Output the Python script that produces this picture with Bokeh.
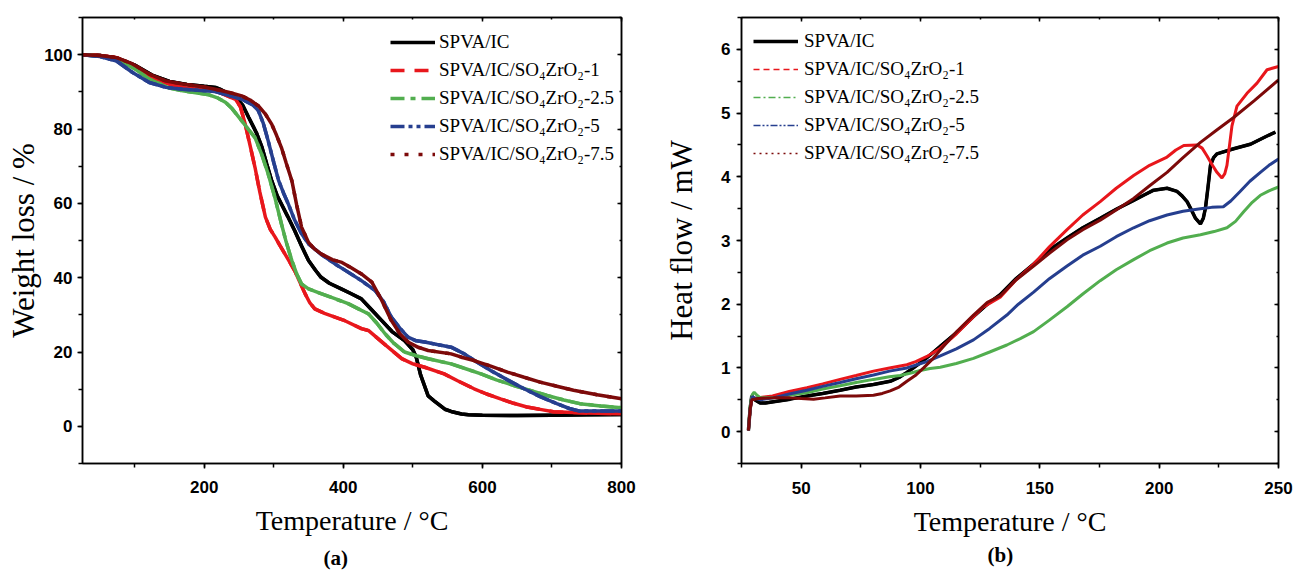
from bokeh.plotting import figure
from bokeh.layouts import row
from bokeh.models import (LinearAxis, SingleIntervalTicker, Legend, LegendItem,
                          Title, Range1d)
from bokeh.embed import file_html
from bokeh.resources import INLINE

# ---------------- data ----------------
series_names = ["SPVA/IC", "SPVA/IC/SO₄ZrO₂-1", "SPVA/IC/SO₄ZrO₂-2.5",
                "SPVA/IC/SO₄ZrO₂-5", "SPVA/IC/SO₄ZrO₂-7.5"]
colors = ["#000000", "#e8171c", "#52ae4f", "#263f8f", "#7d0a0a"]

# (a) TGA: temperature (°C) vs weight loss (%)
tga_x_ic = [25, 50, 75, 100, 125, 150, 175, 200, 216, 225, 245, 255, 264, 275, 283, 290, 297, 305, 311,
            320, 330, 340, 350, 360, 368, 380, 397, 410, 426, 440, 455, 470, 488, 500, 505, 511, 522,
            531, 546, 555, 570, 580, 600, 650, 700, 750, 800]
tga_y_ic = [100, 99.8, 99.1, 97.2, 94.5, 92.8, 92.0, 91.5, 91.2, 90.5, 88.5, 86.5, 83.1, 79.0, 75.1, 70.5,
            66.1, 62.0, 59.8, 56.5, 52.7, 48.5, 44.6, 42.0, 40.1, 38.5, 37.0, 35.8, 34.3, 31.5, 28.5, 25.5,
            23.1, 20.6, 18.5, 13.9, 8.2, 6.8, 4.6, 4.0, 3.3, 3.1, 3.0, 2.9, 3.0, 3.1, 3.2]

tga_x_1 = [25, 50, 74, 100, 121, 150, 169, 200, 216, 245, 252, 259, 266, 273, 280, 288, 295, 302, 309,
           316, 323, 330, 337, 345, 352, 359, 373, 388, 400, 426, 436, 460, 484, 500, 517, 545, 565,
           588, 606, 626, 645, 664, 685, 702, 750, 800]
tga_y_1 = [100, 99.8, 99.2, 97.0, 93.9, 92.0, 91.2, 90.5, 90.3, 88.0, 86.0, 81.3, 75.5, 69.7, 63.0, 56.3,
           53.0, 50.9, 48.6, 46.4, 44.2, 41.9, 39.0, 35.7, 33.2, 31.6, 30.4, 29.4, 28.6, 26.3, 25.8, 22.0,
           18.2, 16.8, 15.9, 14.1, 12.2, 10.1, 8.7, 7.4, 6.2, 5.2, 4.5, 3.9, 3.6, 3.4]

tga_x_25 = [25, 50, 74, 100, 121, 150, 169, 190, 207, 220, 231, 240, 254, 264, 273, 283, 292, 302, 311,
            318, 326, 333, 340, 350, 368, 387, 407, 426, 436, 448, 460, 473, 488, 505, 522, 555, 576,
            598, 620, 645, 670, 693, 717, 740, 770, 800]
tga_y_25 = [100, 99.6, 98.8, 96.2, 93.4, 91.0, 90.3, 89.7, 89.2, 88.3, 87.1, 85.5, 82.2, 79.8, 77.7, 73.0,
            67.9, 61.3, 54.5, 49.5, 44.6, 41.0, 38.3, 37.0, 35.7, 34.4, 33.0, 31.2, 30.3, 27.8, 24.9, 22.3,
            20.0, 19.0, 18.2, 16.8, 15.5, 14.1, 12.5, 11.0, 9.6, 8.3, 7.1, 6.1, 5.5, 5.0]

tga_x_5 = [25, 50, 74, 97, 121, 145, 169, 216, 254, 270, 278, 285, 292, 300, 307, 314, 321, 330, 340,
           350, 368, 388, 400, 426, 446, 458, 469, 481, 493, 505, 517, 535, 555, 574, 592, 612, 636,
           660, 683, 707, 725, 740, 770, 800]
tga_y_5 = [100, 99.5, 98.3, 95.2, 92.5, 91.2, 90.7, 90.1, 88.0, 86.5, 84.9, 81.5, 76.8, 71.0, 66.1, 62.8,
           59.8, 55.5, 51.8, 49.1, 46.3, 43.7, 42.3, 39.2, 36.5, 33.5, 29.4, 26.5, 24.0, 23.0, 22.7, 22.0,
           21.3, 19.5, 17.3, 15.0, 12.5, 10.1, 8.0, 6.1, 4.8, 4.1, 4.1, 4.1]

tga_x_75 = [25, 50, 74, 97, 121, 145, 169, 200, 216, 235, 254, 266, 278, 288, 297, 304, 311, 318, 326,
            333, 340, 350, 358, 368, 385, 398, 412, 426, 441, 455, 469, 481, 493, 507, 522, 555, 570,
            588, 612, 636, 660, 683, 707, 731, 765, 800]
tga_y_75 = [100, 99.8, 99.2, 97.5, 94.8, 92.9, 92.1, 91.3, 90.7, 89.9, 88.9, 87.8, 86.2, 84.0, 81.3, 78.3,
            75.0, 70.8, 66.1, 59.5, 53.6, 49.5, 47.8, 46.4, 44.8, 44.1, 42.6, 41.0, 38.8, 34.0, 28.5, 25.0,
            22.7, 21.3, 20.4, 19.5, 18.6, 17.7, 16.2, 14.6, 13.2, 11.9, 10.8, 9.7, 8.5, 7.4]

# (b) DSC: temperature (°C) vs heat flow (mW)
dsc_x_ic = [27.9, 28.6, 29.3, 30.2, 32.8, 35, 38.4, 45.4, 52.4, 59, 66.3, 73, 80.3, 87.3, 91, 94.3, 97,
            99.9, 104, 108.3, 115, 122, 128, 133.4, 140, 147.4, 154, 161.4, 168, 175.3, 182, 189.3,
            193.5, 197.7, 203.3, 207.5, 209.6, 211.7, 213.5, 215.2, 217.3, 218.5, 219.4, 220.5, 221.5,
            222.8, 224.2, 231.2, 238.2, 245.2, 248.7]
dsc_y_ic = [0.02, 0.35, 0.56, 0.51, 0.45, 0.45, 0.47, 0.51, 0.56, 0.60, 0.65, 0.70, 0.74, 0.79, 0.85,
            0.93, 1.00, 1.08, 1.20, 1.34, 1.55, 1.80, 2.00, 2.15, 2.40, 2.63, 2.85, 3.04, 3.20, 3.35,
            3.49, 3.63, 3.71, 3.79, 3.82, 3.77, 3.70, 3.61, 3.48, 3.35, 3.26, 3.35, 3.51, 3.85, 4.18,
            4.30, 4.36, 4.44, 4.51, 4.64, 4.70]

dsc_x_1 = [27.9, 28.6, 29.3, 31.4, 38, 45, 52.4, 59, 66.3, 73, 80.3, 87, 94.3, 98, 102.7, 108.3, 115.2,
           120, 126, 133.4, 140, 147.4, 154, 161.4, 168, 175.3, 182, 189.3, 196, 203.3, 207, 210.3,
           215.9, 218, 220, 222, 224.2, 226.3, 227.5, 228.4, 229.5, 230.5, 232.6, 236.8, 241, 245.2, 250]
dsc_y_1 = [0.02, 0.35, 0.50, 0.53, 0.56, 0.63, 0.69, 0.75, 0.82, 0.88, 0.95, 1.00, 1.05, 1.10, 1.18, 1.31,
           1.54, 1.72, 1.95, 2.11, 2.38, 2.63, 2.90, 3.17, 3.40, 3.61, 3.82, 4.02, 4.18, 4.31, 4.42, 4.49,
           4.50, 4.45, 4.33, 4.20, 4.07, 3.98, 4.05, 4.18, 4.50, 4.80, 5.11, 5.31, 5.47, 5.68, 5.73]

dsc_x_25 = [27.9, 28.6, 29.5, 30.3, 31.5, 33, 38.4, 45, 52.4, 59, 66.3, 73, 80.3, 87, 91.5, 96, 99.9, 104,
            108.3, 115, 122.2, 129, 136.2, 141.8, 147.4, 154, 161.4, 168, 175.3, 182, 189.3, 196, 203.3,
            210, 217.3, 223, 228.4, 232, 235.4, 239, 242.4, 246, 250]
dsc_y_25 = [0.02, 0.40, 0.58, 0.62, 0.57, 0.53, 0.53, 0.57, 0.61, 0.67, 0.72, 0.77, 0.82, 0.86, 0.88, 0.92,
            0.96, 0.99, 1.01, 1.07, 1.15, 1.25, 1.36, 1.46, 1.57, 1.75, 1.96, 2.16, 2.37, 2.54, 2.70, 2.84,
            2.96, 3.04, 3.09, 3.14, 3.20, 3.30, 3.45, 3.60, 3.71, 3.78, 3.84]

dsc_x_5 = [27.9, 28.6, 29.5, 31, 33, 38.4, 45, 52.4, 59, 66.3, 73, 80.3, 87, 94.3, 98.5, 102.7, 108.3, 115,
           122.2, 129, 136.2, 141, 147.4, 154, 161.4, 168, 175.3, 182, 189.3, 196, 203.3, 210, 217.3,
           222, 226.9, 230, 233.9, 238, 242.4, 246, 250]
dsc_y_5 = [0.02, 0.35, 0.55, 0.52, 0.50, 0.53, 0.59, 0.65, 0.71, 0.77, 0.83, 0.89, 0.95, 1.00, 1.05, 1.10,
           1.19, 1.30, 1.44, 1.62, 1.83, 2.00, 2.19, 2.40, 2.60, 2.77, 2.91, 3.06, 3.20, 3.31, 3.40, 3.46,
           3.50, 3.52, 3.53, 3.62, 3.77, 3.93, 4.07, 4.18, 4.28]

dsc_x_75 = [27.9, 28.6, 29.3, 32, 38.4, 45.4, 50, 55.2, 60, 66.3, 73, 80.3, 84, 87.3, 91, 94.3, 97.8,
            101.3, 104.8, 108.3, 115.2, 122.2, 128, 133.4, 140, 147.4, 154, 161.4, 168, 175.3, 182, 189.3,
            196, 203.3, 210, 217.3, 224, 231.2, 240, 250]
dsc_y_75 = [0.02, 0.35, 0.50, 0.52, 0.53, 0.53, 0.52, 0.51, 0.53, 0.56, 0.56, 0.57, 0.60, 0.64, 0.70, 0.79,
            0.88, 1.00, 1.13, 1.28, 1.57, 1.83, 2.03, 2.13, 2.38, 2.60, 2.80, 3.01, 3.17, 3.32, 3.48, 3.66,
            3.86, 4.07, 4.30, 4.54, 4.73, 4.93, 5.20, 5.52]

tga_series = [(tga_x_ic, tga_y_ic), (tga_x_1, tga_y_1), (tga_x_25, tga_y_25),
              (tga_x_5, tga_y_5), (tga_x_75, tga_y_75)]
dsc_series = [(dsc_x_ic, dsc_y_ic), (dsc_x_1, dsc_y_1), (dsc_x_25, dsc_y_25),
              (dsc_x_5, dsc_y_5), (dsc_x_75, dsc_y_75)]

TICK_FONT = "Liberation Sans"
SERIF = "Liberation Serif"


def make_panel(width, height, xr, yr, xint, yint, ylabel, tag, tag_offset,
               mb_left, mb_right, mb_bottom, x_std, xlab_std, y_std, ylab_std, tag_std):
    p = figure(width=width, height=height, output_backend="svg", toolbar_location=None,
               x_range=Range1d(*xr), y_range=Range1d(*yr),
               min_border_left=mb_left, min_border_right=mb_right,
               min_border_top=17, min_border_bottom=mb_bottom)
    p.grid.visible = False
    p.outline_line_color = "black"
    p.outline_line_width = 1.5
    p.background_fill_color = "white"
    p.border_fill_color = "white"

    for ax, intv in ((p.xaxis[0], xint), (p.yaxis[0], yint)):
        ax.ticker = SingleIntervalTicker(interval=intv, num_minor_ticks=2)
        ax.axis_line_width = 1.5
        ax.major_tick_line_width = 1.5
        ax.minor_tick_line_width = 1.5
        ax.major_tick_in = 0
        ax.major_tick_out = 5
        ax.minor_tick_in = 0
        ax.minor_tick_out = 4
        ax.major_label_text_font = TICK_FONT
        ax.major_label_text_font_style = "bold"
        ax.major_label_text_font_size = "17px"
        ax.major_label_text_color = "black"
        ax.axis_label_text_font = SERIF
        ax.axis_label_text_font_style = "normal"
        ax.axis_label_text_color = "black"
    p.xaxis[0].axis_label = "Temperature / °C"
    p.xaxis[0].axis_label_text_font_size = "28px"
    p.xaxis[0].major_label_standoff = x_std
    p.xaxis[0].axis_label_standoff = xlab_std
    p.yaxis[0].axis_label = ylabel
    p.yaxis[0].axis_label_text_font_size = "31px"
    p.yaxis[0].major_label_standoff = y_std
    p.yaxis[0].axis_label_standoff = ylab_std

    for side, intv in (("above", xint), ("right", yint)):
        ax = LinearAxis(ticker=SingleIntervalTicker(interval=intv, num_minor_ticks=2),
                        major_label_text_color=None, major_label_text_font_size="1px",
                        major_label_standoff=0,
                        major_tick_in=4, major_tick_out=0, minor_tick_in=2, minor_tick_out=0,
                        axis_line_width=1.5, major_tick_line_width=1.5, minor_tick_line_width=1.5)
        p.add_layout(ax, side)

    p.add_layout(Title(text=tag, align="left", offset=tag_offset, text_font=SERIF,
                       text_font_size="21px", text_font_style="bold", text_color="black",
                       standoff=tag_std), "below")
    return p


def add_series(p, series, dashes, curve_w, legend_w, loc, standoff):
    items = []
    for (xs, ys), c, d, lw, name in zip(series, colors, dashes, legend_w, series_names):
        p.line(xs, ys, line_color=c, line_width=curve_w)
        # the recorded curve in its own (dense) line style, shown in the legend
        r = p.line(xs, ys, line_color=c, line_width=lw, line_dash=d)
        items.append(LegendItem(label=name, renderers=[r]))
    leg = Legend(items=items, location=loc, padding=0, margin=0, spacing=0,
                 label_height=28, glyph_height=28, glyph_width=45, label_standoff=standoff,
                 border_line_color=None, background_fill_alpha=0,
                 label_text_font=SERIF, label_text_font_size="19px", label_text_color="black")
    p.add_layout(leg)


# ---------------- panel (a) ----------------
p1 = make_panel(640, 579, (25, 800), (-10, 110), 200, 20, "Weight loss / %", "(a)", 241,
                82, 19, 116, 12, 9, 5, 0, 11)
add_series(p1, tga_series, ["solid", "14 10", "14 6 5 6", "14 4 4 4 4 4", "4 10"],
           3.5, [3.5] * 5, (308, 295), 4)

# ---------------- panel (b) ----------------
p2 = make_panel(656, 579, (25, 250), (-0.5, 6.5), 50, 1, "Heat flow / mW", "(b)", 246,
                101, 18, 109, 13, 9, 6, 19, 3)
add_series(p2, dsc_series, ["solid", "6 4", "7 3 2 3", "7 2 2 2 2 2", "2 4"],
           3, [3.5, 1.3, 1.3, 1.3, 1.3], (12, 296), 6)

layout = row(p1, p2)
open("out.html", "w").write(file_html(layout, INLINE))
